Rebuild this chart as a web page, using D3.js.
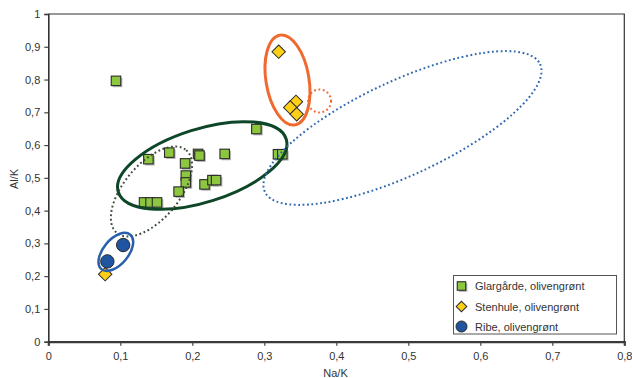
<!DOCTYPE html>
<html>
<head>
<meta charset="utf-8">
<script src="https://cdn.jsdelivr.net/npm/d3@7"></script>
<style>
  html, body { margin: 0; padding: 0; background: #fff; }
  svg { display: block; font-family: "Liberation Sans", Arial, sans-serif; }
</style>
</head>
<body>
<svg id="chart" width="632" height="378"></svg>
<script>
// Series values: [Na/K, Al/K]
const glargarde = [
  [0.094, 0.796], [0.139, 0.557], [0.168, 0.577], [0.208, 0.573], [0.210, 0.568],
  [0.245, 0.573], [0.289, 0.649], [0.190, 0.544], [0.191, 0.507], [0.191, 0.486],
  [0.181, 0.458], [0.217, 0.480], [0.228, 0.493], [0.233, 0.493], [0.133, 0.425],
  [0.142, 0.425], [0.151, 0.425], [0.319, 0.572], [0.325, 0.572]
];
const stenhule = [[0.320, 0.885], [0.344, 0.732], [0.336, 0.715], [0.345, 0.694], [0.079, 0.206]];
const ribe = [[0.082, 0.245], [0.104, 0.295]];

const seriesNames = ["Glargårde, olivengrønt", "Stenhule, olivengrønt", "Ribe, olivengrønt"];
const xTicks = [0, 0.1, 0.2, 0.3, 0.4, 0.5, 0.6, 0.7, 0.8];
const yTicks = [0, 0.1, 0.2, 0.3, 0.4, 0.5, 0.6, 0.7, 0.8, 0.9, 1];

// Grouping ellipses: centre in data units, radii in px, rotation in degrees
const groups = [
  { cx: 0.2138, cy: 0.5377, rx: 88, ry: 36.6, rot: -17.5, color: "#0e4628", width: 3, dotted: false },
  { cx: 0.1433, cy: 0.4583, rx: 54, ry: 27.5, rot: -50, color: "#3d4a3c", width: 2, dotted: true },
  { cx: 0.0938, cy: 0.274, rx: 22.5, ry: 12.5, rot: -50, color: "#2a5fae", width: 2.5, dotted: false },
  { cx: 0.3322, cy: 0.7986, rx: 21.5, ry: 45.5, rot: -9.5, color: "#f0692e", width: 3, dotted: false },
  { cx: 0.3767, cy: 0.7345, rx: 11.5, ry: 11.5, rot: 0, color: "#f0692e", width: 2, dotted: true },
  { cx: 0.4919, cy: 0.6521, rx: 151.7, ry: 47.2, rot: -24.9, color: "#2e68b2", width: 2, dotted: true }
];

const svg = d3.select("#chart");
const m = { left: 48.3, right: 624.3, top: 14, bottom: 341.7 };

const x = d3.scaleLinear().domain([0, 0.8]).range([m.left, m.right]);
const y = d3.scaleLinear().domain([0, 1]).range([m.bottom, m.top]);
const fmt = d => d3.format("~g")(d).replace(".", ",");

// Frame (top and right)
svg.append("path")
  .attr("d", `M${m.left},${m.top}H${m.right}V${m.bottom}`)
  .attr("fill", "none").attr("stroke", "#333").attr("stroke-width", 1.2);

// Axes
const xAxis = svg.append("g").attr("transform", `translate(0,${m.bottom})`)
  .call(d3.axisBottom(x).tickValues(xTicks).tickFormat(fmt).tickSize(4).tickPadding(7));
const yAxis = svg.append("g").attr("transform", `translate(${m.left},0)`)
  .call(d3.axisLeft(y).tickValues(yTicks).tickFormat(fmt).tickSize(4).tickPadding(4));
xAxis.select(".domain").attr("stroke", "#3a3a3a").attr("stroke-width", 2.2);
yAxis.select(".domain").attr("stroke", "#333").attr("stroke-width", 1.6);
[xAxis, yAxis].forEach(a => {
  a.selectAll(".tick line").attr("stroke", "#444").attr("stroke-width", 1.2);
  a.selectAll(".tick text").attr("fill", "#333").style("font-size", "11px")
    .style("font-family", "'Liberation Sans', Arial, sans-serif");
});

// Axis titles
svg.append("text").attr("x", 335.5).attr("y", 377).attr("text-anchor", "middle")
  .attr("fill", "#333").style("font-size", "11px").text("Na/K");
svg.append("text").attr("transform", "translate(18,179) rotate(-90)").attr("text-anchor", "middle")
  .attr("fill", "#333").style("font-size", "11px").text("Al/K");

// Marker styles
const green = "#8dc63f", yellow = "#fdd017", blue = "#1f55a0", outline = "#2a2a2a";
const diamond = d3.symbol().type(d3.symbolSquare);

function drawSquare(g, px, py, s) {
  g.append("rect").attr("x", px - s / 2 + 1.6).attr("y", py - s / 2 + 1.6)
    .attr("width", s).attr("height", s).attr("fill", "#9b9b9b").attr("opacity", 0.75);
  g.append("rect").attr("x", px - s / 2).attr("y", py - s / 2)
    .attr("width", s).attr("height", s)
    .attr("fill", green).attr("stroke", outline).attr("stroke-width", 1.1);
}
function drawDiamond(g, px, py, s) {
  g.append("path").attr("d", diamond.size(s * s)())
    .attr("transform", `translate(${px},${py}) rotate(45)`)
    .attr("fill", yellow).attr("stroke", outline).attr("stroke-width", 1);
}
function drawCircle(g, px, py, r) {
  g.append("circle").attr("cx", px).attr("cy", py).attr("r", r)
    .attr("fill", blue).attr("stroke", outline).attr("stroke-width", 1);
}

const marks = svg.append("g");
glargarde.forEach(d => drawSquare(marks, x(d[0]), y(d[1]), 9.5));
stenhule.forEach(d => drawDiamond(marks, x(d[0]), y(d[1]), 9.5));
ribe.forEach(d => drawCircle(marks, x(d[0]), y(d[1]), 6.7));

// Grouping ellipses on top of the markers
svg.append("g").selectAll("ellipse").data(groups).join("ellipse")
  .attr("transform", d => `translate(${x(d.cx)},${y(d.cy)}) rotate(${d.rot})`)
  .attr("rx", d => d.rx).attr("ry", d => d.ry)
  .attr("fill", "none").attr("stroke", d => d.color).attr("stroke-width", d => d.width)
  .attr("stroke-dasharray", d => d.dotted ? "1.8 2.6" : null);

// Legend
const lg = svg.append("g");
lg.append("rect").attr("x", 453.5).attr("y", 275.5).attr("width", 163).attr("height", 58.5)
  .attr("fill", "#fff").attr("stroke", "#555").attr("stroke-width", 1);
const ly = [286, 306.5, 326.5];
drawSquare(lg, 461.5, ly[0], 8.5);
drawDiamond(lg, 461.5, ly[1], 7.5);
drawCircle(lg, 461.5, ly[2], 5.5);
lg.selectAll("text.lab").data(seriesNames).join("text").attr("class", "lab")
  .attr("x", 475).attr("y", (d, i) => ly[i] + 4)
  .attr("fill", "#333").style("font-size", "11px").text(d => d);
</script>
</body>
</html>
